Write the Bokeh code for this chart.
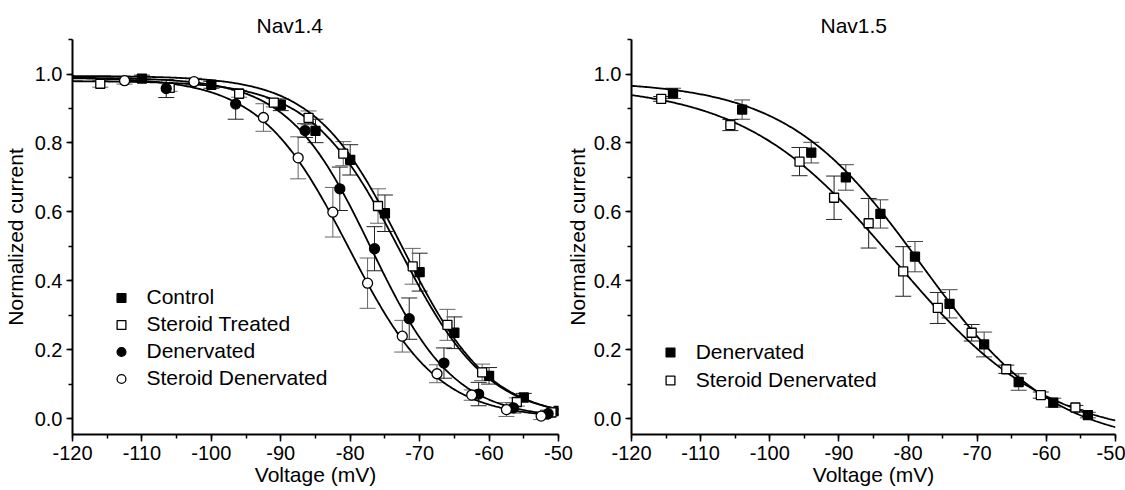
import numpy as np
from bokeh.plotting import figure
from bokeh.layouts import row
from bokeh.models import (ColumnDataSource, Range1d, SingleIntervalTicker, PrintfTickFormatter,
                          Whisker, TeeHead, Legend, LegendItem)
from bokeh.embed import file_html
from bokeh.resources import INLINE

FONT = "Liberation Sans"

# ---------------- Nav1.4 data ----------------
ctrl_v = [-110, -100, -90, -85, -80, -75, -70, -65, -60, -55, -50]
ctrl_i = [0.987, 0.969, 0.911, 0.835, 0.751, 0.596, 0.425, 0.249, 0.124, 0.061, 0.022]
ctrl_e = [0.010, 0.010, 0.017, 0.034, 0.044, 0.053, 0.055, 0.046, 0.024, 0.012, 0.008]

st_v = [-116, -106, -96, -91, -86, -81, -76, -71, -66, -61, -56, -51]
st_i = [0.972, 0.960, 0.943, 0.917, 0.873, 0.769, 0.617, 0.442, 0.272, 0.134, 0.048, 0.018]
st_e = [0.010, 0.010, 0.010, 0.012, 0.020, 0.035, 0.050, 0.052, 0.045, 0.024, 0.012, 0.006]

den_v = [-106.5, -96.5, -86.5, -81.5, -76.5, -71.5, -66.5, -61.5, -56.5, -51.5]
den_i = [0.958, 0.913, 0.836, 0.667, 0.493, 0.290, 0.161, 0.071, 0.031, 0.014]
den_e = [0.026, 0.044, 0.020, 0.063, 0.064, 0.060, 0.044, 0.034, 0.015, 0.010]

sden_v = [-112.5, -102.5, -92.5, -87.5, -82.5, -77.5, -72.5, -67.5, -62.5, -57.5, -52.5]
sden_i = [0.981, 0.978, 0.874, 0.757, 0.599, 0.393, 0.239, 0.130, 0.068, 0.026, 0.007]
sden_e = [0.010, 0.010, 0.040, 0.061, 0.072, 0.073, 0.046, 0.026, 0.015, 0.020, 0.010]

# Boltzmann fit parameters (top, bottom, V1/2, k) for the Nav1.4 curves
fit14_names = ["Control", "Steroid Treated", "Denervated", "Steroid Denervated"]
fit14_top = [0.995, 0.980, 0.990, 0.990]
fit14_bottom = [0.0, 0.0, 0.0, 0.0]
fit14_vhalf = [-72.5, -72.9, -77.0, -80.2]
fit14_k = [6.3, 6.4, 6.0, 6.4]

# ---------------- Nav1.5 data ----------------
den15_v = [-114, -104, -94, -89, -84, -79, -74, -69, -64, -59, -54]
den15_i = [0.944, 0.897, 0.772, 0.700, 0.594, 0.470, 0.333, 0.215, 0.106, 0.046, 0.010]
den15_e = [0.015, 0.028, 0.030, 0.037, 0.041, 0.044, 0.041, 0.036, 0.024, 0.013, 0.008]

sden15_v = [-115.7, -105.7, -95.7, -90.7, -85.7, -80.7, -75.7, -70.8, -65.8, -60.8, -55.8]
sden15_i = [0.928, 0.852, 0.746, 0.641, 0.567, 0.427, 0.321, 0.249, 0.143, 0.068, 0.032]
sden15_e = [0.007, 0.016, 0.041, 0.063, 0.072, 0.072, 0.045, 0.024, 0.012, 0.009, 0.006]

fit15_names = ["Denervated", "Steroid Denervated"]
fit15_top = [0.98, 0.97]
fit15_bottom = [-0.08, -0.06]
fit15_vhalf = [-78.2, -81.8]
fit15_k = [9.7, 11.0]

titles = ["Nav1.4", "Nav1.5"]
x_label = "Voltage (mV)"
y_label = "Normalized current"
x_ticks_interval = 10
y_ticks_interval = 0.2


def boltz(v, top, bottom, vh, k):
    return bottom + (top - bottom) / (1.0 + np.exp((v - vh) / k))


def make_fig(width, min_left, min_right, title, title_offset, ylab_standoff):
    p = figure(width=width, height=490, output_backend="svg", toolbar_location=None,
               x_range=Range1d(-120, -50), y_range=Range1d(-0.0464, 1.1005),
               min_border_left=min_left, min_border_right=min_right,
               min_border_top=39, min_border_bottom=56, title=title)
    p.outline_line_color = None
    p.xgrid.visible = False
    p.ygrid.visible = False
    p.background_fill_color = "white"

    p.title.text_font = FONT
    p.title.text_font_size = "21px"
    p.title.text_font_style = "normal"
    p.title.text_color = "black"
    p.title.align = "left"
    p.title.offset = title_offset
    p.title.standoff = 6

    p.xaxis.ticker = SingleIntervalTicker(interval=x_ticks_interval, num_minor_ticks=2)
    p.yaxis.ticker = SingleIntervalTicker(interval=y_ticks_interval, num_minor_ticks=2)
    p.xaxis.formatter = PrintfTickFormatter(format="%d")
    p.yaxis.formatter = PrintfTickFormatter(format="%.1f")
    for ax in (p.xaxis, p.yaxis):
        ax.axis_line_width = 2
        ax.axis_line_color = "black"
        ax.major_tick_line_width = 1.5
        ax.minor_tick_line_width = 1.5
        ax.major_tick_in = 0
        ax.minor_tick_in = 0
        ax.minor_tick_out = 4
        ax.major_label_text_font = FONT
        ax.major_label_text_font_size = "20px"
        ax.major_label_text_color = "black"
        ax.axis_label_text_font = FONT
        ax.axis_label_text_font_size = "21px"
        ax.axis_label_text_font_style = "normal"
        ax.axis_label_text_color = "black"
    p.xaxis.major_tick_out = 7
    p.xaxis.major_label_standoff = 4
    p.xaxis.axis_label = x_label
    p.xaxis.axis_label_standoff = 0
    p.yaxis.major_tick_out = 6
    p.yaxis.major_label_standoff = 4
    p.yaxis.axis_label = y_label
    p.yaxis.axis_label_standoff = ylab_standoff
    return p


def add_errorbars(p, v, i, e, bar_color):
    src = ColumnDataSource(dict(v=v, i=i,
                                upper=[a + b for a, b in zip(i, e)],
                                lower=[a - b for a, b in zip(i, e)]))
    p.add_layout(Whisker(base="v", upper="upper", lower="lower", source=src, dimension="height",
                         line_color=bar_color, line_width=1,
                         upper_head=TeeHead(size=16, line_color=bar_color, line_width=1),
                         lower_head=TeeHead(size=16, line_color=bar_color, line_width=1)))
    return src


def add_markers(p, src, marker, filled):
    size = 10 if marker == "circle" else 9
    return p.scatter("v", "i", source=src, marker=marker, size=size,
                     fill_color="black" if filled else "white",
                     line_color="black", line_width=1.3)


def make_legend(names, renderers, loc, row_h):
    return Legend(items=[LegendItem(label=n, renderers=[r]) for n, r in zip(names, renderers)],
                  location=loc, orientation="vertical",
                  border_line_color=None, background_fill_alpha=0, padding=0, margin=0,
                  spacing=0, glyph_height=row_h, glyph_width=22, label_height=row_h,
                  label_standoff=15, label_text_font=FONT, label_text_font_size="21px",
                  label_text_color="black")


vgrid = np.linspace(-120, -50, 400)

# ---------------- Left panel ----------------
p1 = make_fig(588, 72, 30, titles[0], 184, 5)
series14 = [
    (ctrl_v, ctrl_i, ctrl_e, "square", True, "#222222"),
    (st_v, st_i, st_e, "square", False, "#666666"),
    (den_v, den_i, den_e, "circle", True, "#222222"),
    (sden_v, sden_i, sden_e, "circle", False, "#666666"),
]
srcs14 = [add_errorbars(p1, s[0], s[1], s[2], s[5]) for s in series14]
for t, b, vh, k in zip(fit14_top, fit14_bottom, fit14_vhalf, fit14_k):
    p1.line(vgrid, boltz(vgrid, t, b, vh, k), line_color="black", line_width=1.8)
rs14 = [add_markers(p1, src, s[3], s[4]) for src, s in zip(srcs14, series14)]
p1.add_layout(make_legend(fit14_names, rs14, (37.5, 42.5), 27))

# ---------------- Right panel ----------------
p2 = make_fig(563, 66, 10, titles[1], 189, 2)
p2.border_fill_color = None
p2.margin = (0, 0, 0, -26)
series15 = [
    (den15_v, den15_i, den15_e, "square", True, "#444444"),
    (sden15_v, sden15_i, sden15_e, "square", False, "#222222"),
]
srcs15 = [add_errorbars(p2, s[0], s[1], s[2], s[5]) for s in series15]
for t, b, vh, k in zip(fit15_top, fit15_bottom, fit15_vhalf, fit15_k):
    p2.line(vgrid, boltz(vgrid, t, b, vh, k), line_color="black", line_width=1.8)
rs15 = [add_markers(p2, src, s[3], s[4]) for src, s in zip(srcs15, series15)]
p2.add_layout(make_legend(fit15_names, rs15, (27.7, 40), 28))

layout = row(p1, p2)
open("out.html", "w").write(file_html(layout, INLINE))
